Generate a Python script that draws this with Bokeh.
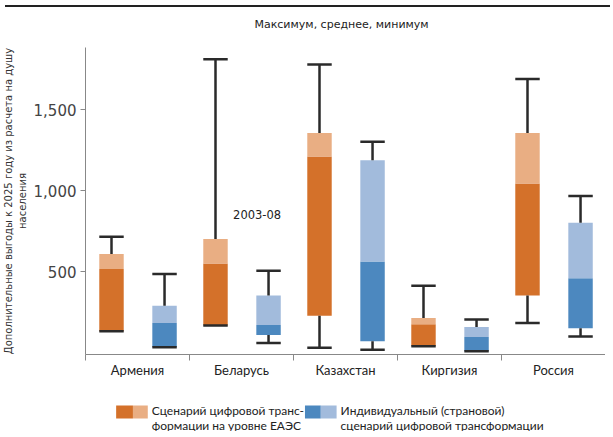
import numpy as np
from bokeh.plotting import figure
from bokeh.layouts import column
from bokeh.models import FixedTicker, NumeralTickFormatter, Label, Div, Range1d
from bokeh.core.properties import value
from bokeh.embed import file_html
from bokeh.resources import INLINE

# ---- data ----
countries = ["Армения", "Беларусь", "Казахстан", "Киргизия", "Россия"]

eaeu_min = [131, 167, 29, 39, 183]
eaeu_low = [131, 167, 228, 39, 352]
eaeu_mid = [516, 551, 1212, 175, 1045]
eaeu_high = [609, 701, 1356, 214, 1356]
eaeu_max = [716, 1812, 1780, 413, 1691]

ind_min = [33, 59, 18, 8, 99]
ind_low = [33, 109, 70, 8, 150]
ind_mid = [183, 170, 562, 96, 459]
ind_high = [290, 352, 1189, 158, 802]
ind_max = [485, 506, 1302, 204, 967]

y_ticks = [500, 1000, 1500]
title_text = "Максимум, среднее, минимум"
y_label = "Дополнительные выгоды к 2025 году из расчета на душу\nнаселения"
note_text = "2003-08"
legend_eaeu = "Сценарий цифровой транс-\nформации на уровне ЕАЭС"
legend_ind = "Индивидуальный (страновой)\nсценарий цифровой трансформации"

ORANGE_D, ORANGE_L = "#D4712A", "#E9AE83"
BLUE_D, BLUE_L = "#4C88BF", "#A2BBDC"
WHISK = "#2a2a2a"
AXIS = "#888888"

idx = np.arange(len(countries))
x_eaeu = idx + 0.5 - 0.25
x_ind = idx + 0.5 + 0.26
bw = 0.235

def blank_fig(h):
    f = figure(width=605, height=h, x_range=Range1d(79, 605), y_range=Range1d(h, 0),
               output_backend="svg", toolbar_location=None,
               x_axis_location=None, y_axis_location=None,
               min_border_left=0, min_border_right=0, min_border_top=0, min_border_bottom=0)
    f.outline_line_color = None
    f.grid.visible = False
    return f

# title figure
tf = blank_fig(26)
tf.text(x=[338], y=[12], text=[title_text], text_font=value("DejaVu Sans"),
        text_font_size="11px", text_color="#222222",
        text_baseline="middle", text_align="center")

p = figure(width=605, height=346, x_range=(0, 5), y_range=(-12, 1885),
           output_backend="svg", toolbar_location=None,
           min_border_left=79, min_border_right=0, min_border_top=9,
           min_border_bottom=30)
p.outline_line_color = None
p.grid.visible = False

def draw_series(xs, mn, lo, mid, hi, mx, cd, cl):
    xs = np.asarray(xs)
    p.vbar(x=xs, width=bw, bottom=lo, top=mid, fill_color=cd, line_color=None)
    p.vbar(x=xs, width=bw, bottom=mid, top=hi, fill_color=cl, line_color=None)
    p.segment(x0=xs, x1=xs, y0=hi, y1=mx, line_color=WHISK, line_width=2.5)
    p.segment(x0=xs, x1=xs, y0=mn, y1=lo, line_color=WHISK, line_width=2.5)
    p.segment(x0=xs - bw / 2, x1=xs + bw / 2, y0=mx, y1=mx, line_color=WHISK, line_width=2.5)
    p.segment(x0=xs - bw / 2, x1=xs + bw / 2, y0=mn, y1=mn, line_color=WHISK, line_width=2.5)

draw_series(x_eaeu, eaeu_min, eaeu_low, eaeu_mid, eaeu_high, eaeu_max, ORANGE_D, ORANGE_L)
draw_series(x_ind, ind_min, ind_low, ind_mid, ind_high, ind_max, BLUE_D, BLUE_L)

# y axis
p.yaxis.ticker = FixedTicker(ticks=y_ticks)
p.yaxis.formatter = NumeralTickFormatter(format="0,0")
p.yaxis.major_label_text_font = "DejaVu Sans"
p.yaxis.major_label_text_font_size = "15px"
p.yaxis.major_label_text_color = "#444444"
p.yaxis.axis_line_color = AXIS
p.yaxis.major_tick_line_color = AXIS
p.yaxis.major_tick_out = 5
p.yaxis.major_tick_in = 0
p.yaxis.minor_tick_line_color = None
p.yaxis.major_label_standoff = 4
p.yaxis.axis_label = y_label
p.yaxis.axis_label_text_font = "DejaVu Sans"
p.yaxis.axis_label_text_font_size = "10px"
p.yaxis.axis_label_text_font_style = "normal"
p.yaxis.axis_label_text_color = "#333333"
p.yaxis.axis_label_standoff = 3

# x axis
centers = [float(i) + 0.5 for i in idx]
bounds = [float(i) for i in range(len(countries) + 1)]
p.xaxis.ticker = FixedTicker(ticks=centers, minor_ticks=bounds)
p.xaxis.major_label_overrides = {c: n for c, n in zip(centers, countries)}
p.xaxis.major_tick_line_color = None
p.xaxis.major_tick_out = 5
p.xaxis.minor_tick_line_color = AXIS
p.xaxis.minor_tick_out = 6
p.xaxis.minor_tick_in = 0
p.xaxis.axis_line_color = AXIS
p.xaxis.major_label_text_font = "Lato"
p.xaxis.major_label_text_font_size = "13px"
p.xaxis.major_label_text_color = "#222222"
p.xaxis.major_label_standoff = 1

p.add_layout(Label(x=1.65, y=850, text=note_text, text_align="center",
                   text_baseline="middle", text_font="DejaVu Sans",
                   text_font_size="11.5px", text_color="#222222"))

# legend figure (frame aligned with the main frame: canvas x 79..605)
lg = blank_fig(47)
lg.quad(left=[110, 127, 301, 317], right=[127, 142, 317, 333],
        top=[21, 21, 21, 21], bottom=[34, 34, 34, 34],
        fill_color=[ORANGE_D, ORANGE_L, BLUE_D, BLUE_L], line_color=None)
lg.text(x=[146, 337], y=[18, 18], text=[legend_eaeu, legend_ind],
        text_font=value("Lato"), text_font_size="12px", text_color="#222222",
        text_baseline="top", text_align="left", text_line_height=1.0)

rule = Div(width=605, height=2, styles={"background-color": "#222222"})

layout = column(rule, tf, p, lg, spacing=0)
open("out.html", "w").write(file_html(layout, INLINE))
